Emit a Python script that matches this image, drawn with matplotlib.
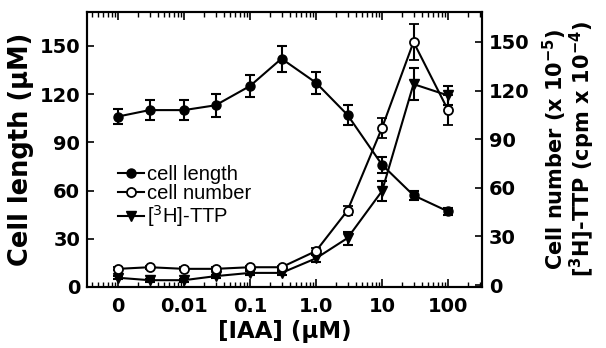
import matplotlib
matplotlib.use("Agg")
import matplotlib.pyplot as plt
from matplotlib.lines import Line2D
from matplotlib.ticker import FixedLocator, LogLocator, NullFormatter

plt.rcParams['font.family'] = ['Liberation Sans', 'DejaVu Sans']
plt.rcParams['mathtext.fontset'] = 'dejavusans'

# IAA concentration (uM); the first point ("0") is drawn at 0.001
iaa = [0.001, 0.003, 0.01, 0.03, 0.1, 0.3, 1, 3, 10, 30, 100]
xtick_pos = [0.001, 0.01, 0.1, 1, 10, 100]
xtick_labels = ['0', '0.01', '0.1', '1.0', '10', '100']

# cell length (uM), left axis
cell_length = [106, 110, 110, 113, 125, 142, 127, 107, 76, 57, 47]
cell_length_err = [4.5, 6, 6, 7, 7, 8, 7, 6, 5, 3, 2]

# cell number (x 10^-5), right axis
cell_number = [10, 11, 10, 10, 11, 11, 21, 46, 97, 150, 108]
cell_number_err = [1, 1, 1, 1, 1, 1, 2, 3, 6, 11, 9]

# [3H]-TTP (cpm x 10^-4), right axis
ttp = [4.5, 3, 3, 5.5, 7.5, 7.5, 16.5, 29, 58, 124, 117]
ttp_err = [1, 1, 1, 1, 1, 1, 2, 4, 6, 10, 6]

bold = dict(family='DejaVu Sans', weight='bold')

fig = plt.figure(figsize=(6.06, 3.48), dpi=100)
ax = fig.add_axes([0.1436, 0.1753, 0.6518, 0.7902])
ax2 = ax.twinx()

eb = dict(color='black', lw=1.5, elinewidth=1.5, capsize=3.8, capthick=1.5)
ax.errorbar(iaa, cell_length, yerr=cell_length_err, fmt='-o', ms=6.5, mfc='black', mec='black', **eb)
h2 = ax2.errorbar(iaa, cell_number, yerr=cell_number_err, fmt='-o', ms=6.5, mfc='white', mec='black', mew=1.3, **eb)
ax2.errorbar(iaa, ttp, yerr=ttp_err, fmt='-v', ms=7, mfc='black', mec='black', **eb)
h2[0].set_zorder(4)

ax.set_xscale('log')
ax.set_xlim(10**-3.47, 10**2.515)
ax.set_ylim(0, 171)
ax2.set_ylim(-1.2, 168.5)

ax.xaxis.set_major_locator(FixedLocator(xtick_pos))
ax.set_xticks(xtick_pos)
ax.set_xticklabels(xtick_labels)
ax.xaxis.set_minor_locator(LogLocator(base=10, subs=range(2, 10)))
ax.xaxis.set_minor_formatter(NullFormatter())
ax.tick_params(axis='x', which='major', direction='in', top=True, length=6, width=1.2, pad=7)
ax.tick_params(axis='x', which='minor', direction='in', top=True, length=3.5, width=1)

ax.set_yticks([0, 30, 60, 90, 120, 150])
ax2.set_yticks([0, 30, 60, 90, 120, 150])
ax.tick_params(axis='y', direction='in', length=5, width=1.2, pad=5)
ax2.tick_params(axis='y', direction='in', length=5, width=1.2, pad=5)

for a in (ax, ax2):
    for lab in a.get_xticklabels() + a.get_yticklabels():
        lab.set_fontproperties(dict(bold, size=14))
    for s in a.spines.values():
        s.set_linewidth(1.5)

ax.set_xlabel('[IAA] (\u03bcM)', fontsize=16.5, labelpad=3, **bold)
ax.set_ylabel('Cell length (\u03bcM)', fontsize=18.5, labelpad=4, **bold)
ax2.set_ylabel('Cell number (x 10$^{\\mathbf{-5}}$)\n[$^{\\mathbf{3}}$H]-TTP (cpm x 10$^{\\mathbf{-4}}$)',
               fontsize=15, labelpad=8, linespacing=0.95, **bold)

handles = [Line2D([], [], color='black', lw=1.5, marker='o', ms=6.5, mfc='black'),
           Line2D([], [], color='black', lw=1.5, marker='o', ms=6.5, mfc='white', mew=1.3),
           Line2D([], [], color='black', lw=1.5, marker='v', ms=7, mfc='black')]
labels = ['cell length', 'cell number', '[$^3$H]-TTP']
ax.legend(handles, labels, loc='upper left', bbox_to_anchor=(0.052, 0.48), frameon=False,
          prop={'family': 'Liberation Sans', 'size': 14.5}, handlelength=1.3, handletextpad=0.15,
          labelspacing=0.0, borderpad=0)

fig.savefig('out.png', dpi=100)
